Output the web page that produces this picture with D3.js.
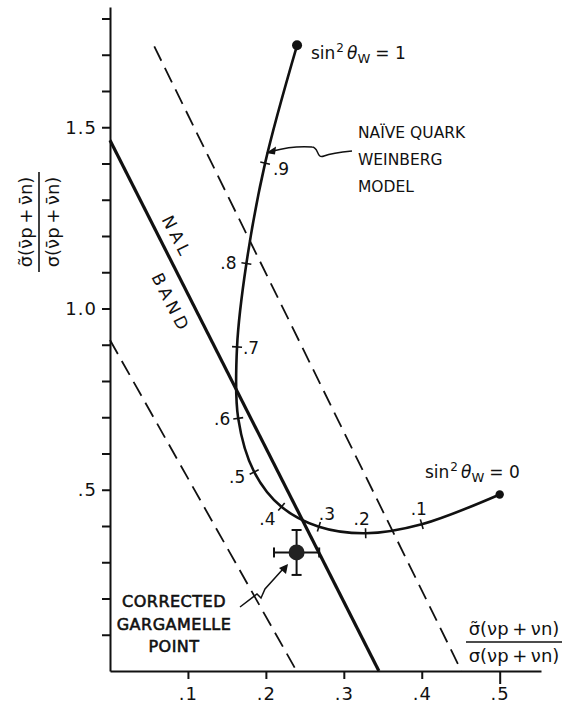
<!DOCTYPE html>
<html><head><meta charset="utf-8">
<script src="https://cdn.jsdelivr.net/npm/d3@7"></script>
<style>
html,body{margin:0;padding:0;background:#fff;}
svg{display:block;font-family:"DejaVu Sans",sans-serif;}
</style></head><body>
<svg id="chart" width="568" height="704"></svg>
<script>
// Naive quark Weinberg model: ratio of neutral to charged current cross sections,
// parametrised by sin²θW (antineutrino ratio vs neutrino ratio)
const sin2Theta  = [0, 0.1, 0.2, 0.3, 0.4, 0.5, 0.6, 0.7, 0.8, 0.9, 1.0];
const ratioNu    = [0.500, 0.400, 0.328, 0.268, 0.220, 0.185, 0.1645, 0.163, 0.175, 0.199, 0.240];
const ratioNuBar = [0.487, 0.405, 0.380, 0.398, 0.453, 0.549, 0.697, 0.894, 1.124, 1.401, 1.726];

// NAL band: central line and its two dashed limits, as [x, y] end points
const nalCentral = [[0, 1.464], [0.345, 0]];
const nalLower   = [[0, 0.913], [0.2394, 0]];
const nalUpper   = [[0.0568, 1.723], [0.4509, 0]];

// corrected Gargamelle measurement with errors
const garX = 0.2394, garY = 0.327, garXErr = 0.029, garYErr = 0.062;

// axis ticks
const xTicks = [0.1, 0.2, 0.3, 0.4, 0.5];
const yTicks = [0.1, 0.2, 0.3, 0.4, 0.5, 0.6, 0.7, 0.8, 0.9, 1.0, 1.1, 1.2, 1.3, 1.4, 1.5, 1.6, 1.7, 1.8];
const yLabelled = [0.5, 1.0, 1.5];
const yLabelText = [".5", "1.0", "1.5"];

const svg = d3.select("#chart");
const ink = "#111";
const thin = "\u2009";

const x = d3.scaleLinear().domain([0, 0.553]).range([110, 541]);
const y = d3.scaleLinear().domain([0, 1.8317]).range([671, 7]);

// ---- axes ----
const yAxis = svg.append("g").attr("transform", "translate(110,0)")
  .call(d3.axisLeft(y).tickValues(yTicks).tickSize(8).tickSizeOuter(0).tickPadding(5)
    .tickFormat(d => {
      const i = yLabelled.findIndex(v => Math.abs(v - d) < 1e-9);
      return i >= 0 ? yLabelText[i] : "";
    }));
const xAxis = svg.append("g").attr("transform", "translate(0,671)")
  .call(d3.axisBottom(x).tickValues(xTicks).tickSize(8).tickSizeOuter(0).tickPadding(8)
    .tickFormat(d => d3.format(".1f")(d).replace(/^0/, "")));
xAxis.selectAll(".tick").filter(d => d === 0.5).select("line").attr("y2", 13);
[yAxis, xAxis].forEach(g => {
  g.attr("font-family", "DejaVu Sans, sans-serif").attr("font-size", 18);
  g.select(".domain").attr("stroke", ink).attr("stroke-width", 2);
  g.selectAll(".tick line").attr("stroke", ink).attr("stroke-width", 2);
  g.selectAll(".tick text").attr("fill", ink).attr("letter-spacing", 1);
});

// ---- NAL band ----
const seg = d3.line().x(d => x(d[0])).y(d => y(d[1]));
svg.append("path").attr("d", seg(nalCentral)).attr("fill", "none")
  .attr("stroke", ink).attr("stroke-width", 3.2);
[nalLower, nalUpper].forEach(p => {
  svg.append("path").attr("d", seg(p)).attr("fill", "none")
    .attr("stroke", ink).attr("stroke-width", 1.8).attr("stroke-dasharray", "16,8");
});

// band labels, rotated along the central line
const ang = Math.atan2(y(nalCentral[1][1]) - y(nalCentral[0][1]), x(nalCentral[1][0]) - x(nalCentral[0][0])) * 180 / Math.PI;
[["NAL", 177, 237], ["BAND", 171, 303]].forEach(([t, cx, cy]) => {
  svg.append("text").attr("transform", `translate(${cx},${cy}) rotate(${ang})`)
    .attr("text-anchor", "middle").attr("dy", "0.35em")
    .attr("font-size", 17).attr("letter-spacing", 4).attr("fill", ink).text(t);
});

// ---- Weinberg model curve ----
const modelPts = sin2Theta.map((s, i) => [x(ratioNu[i]), y(ratioNuBar[i])]);
svg.append("path")
  .attr("d", d3.line().curve(d3.curveCatmullRom.alpha(0.5))(modelPts))
  .attr("fill", "none").attr("stroke", ink).attr("stroke-width", 2.6);

// end dots
svg.append("circle").attr("cx", modelPts[10][0]).attr("cy", modelPts[10][1]).attr("r", 5).attr("fill", ink);
svg.append("circle").attr("cx", modelPts[0][0]).attr("cy", modelPts[0][1]).attr("r", 4.2).attr("fill", ink);

// tick marks across the curve and their sin²θW labels
const labelShift = [null, [-3, -9], [-4, -8], [8, -7], [-14, 18], [-17, 11], [-16, 7], [14, 7], [-18, 5], [16, 12]];
for (let i = 1; i < sin2Theta.length - 1; i++) {
  const [px, py] = modelPts[i];
  const dx = modelPts[i + 1][0] - modelPts[i - 1][0];
  const dy = modelPts[i + 1][1] - modelPts[i - 1][1];
  const len = Math.hypot(dx, dy);
  const nx = -dy / len, ny = dx / len;
  svg.append("line")
    .attr("x1", px - 5 * nx).attr("y1", py - 5 * ny)
    .attr("x2", px + 5 * nx).attr("y2", py + 5 * ny)
    .attr("stroke", ink).attr("stroke-width", 1.6);
  svg.append("text").attr("x", px + labelShift[i][0]).attr("y", py + labelShift[i][1])
    .attr("text-anchor", "middle").attr("font-size", 17).attr("fill", ink)
    .text(d3.format(".1f")(sin2Theta[i]).replace(/^0/, ""));
}

// sin²θW end labels
function sinLabel(tx, ty, val) {
  const t = svg.append("text").attr("x", tx).attr("y", ty).attr("font-size", 17).attr("fill", ink);
  t.append("tspan").text("sin");
  t.append("tspan").attr("font-size", 12).attr("dy", -7).attr("dx", 1).text("2");
  t.append("tspan").attr("font-style", "italic").attr("dy", 7).attr("dx", 3).text("θ");
  t.append("tspan").attr("font-size", 13).attr("dy", 4).text("W");
  t.append("tspan").attr("dy", -4).attr("dx", 5).text("= " + val);
}
sinLabel(311, 59, "1");
sinLabel(425, 478, "0");

// model annotation with wavy arrow
["NAÏVE QUARK", "WEINBERG", "MODEL"].forEach((t, i) => {
  svg.append("text").attr("x", 358).attr("y", 138 + i * 27).attr("font-size", 15.5)
    .attr("fill", ink).text(t);
});
svg.append("path")
  .attr("d", "M352,151 C342,152 332,153 324,156 C316,159 319,147 312,147 C298,146 284,148 273,151")
  .attr("fill", "none").attr("stroke", ink).attr("stroke-width", 1.5);
svg.append("path").attr("d", "M266,153 L276,146.5 L275,154.5 Z").attr("fill", ink);

// ---- Gargamelle point ----
const gx = x(garX), gy = y(garY);
const gxl = x(garX - garXErr), gxr = x(garX + garXErr);
const gyt = y(garY + garYErr), gyb = y(garY - garYErr);
const eb = svg.append("g").attr("stroke", ink).attr("stroke-width", 2);
eb.append("line").attr("x1", gxl).attr("x2", gxr).attr("y1", gy).attr("y2", gy);
eb.append("line").attr("x1", gx).attr("x2", gx).attr("y1", gyt).attr("y2", gyb);
eb.append("line").attr("x1", gxl).attr("x2", gxl).attr("y1", gy - 5).attr("y2", gy + 5);
eb.append("line").attr("x1", gxr).attr("x2", gxr).attr("y1", gy - 5).attr("y2", gy + 5);
eb.append("line").attr("x1", gx - 5).attr("x2", gx + 5).attr("y1", gyt).attr("y2", gyt);
eb.append("line").attr("x1", gx - 5).attr("x2", gx + 5).attr("y1", gyb).attr("y2", gyb);
svg.append("circle").attr("cx", gx).attr("cy", gy).attr("r", 8).attr("fill", "#222");

["CORRECTED", "GARGAMELLE", "POINT"].forEach((t, i) => {
  svg.append("text").attr("x", 174).attr("y", 607 + i * 22.5).attr("text-anchor", "middle")
    .attr("font-size", 16).attr("stroke", ink).attr("stroke-width", 0.6)
    .attr("letter-spacing", 0.5).attr("fill", ink).text(t);
});
svg.append("path")
  .attr("d", "M240,607 L257,594 L261,598 L265,589 L283,569")
  .attr("fill", "none").attr("stroke", ink).attr("stroke-width", 1.5);
svg.append("path").attr("d", "M288,564 L286,574 L279,568 Z").attr("fill", ink);

// ---- axis titles (fractions) ----
function fraction(g, num, den, half, fs) {
  g.append("text").attr("x", 0).attr("y", -7).attr("text-anchor", "middle")
    .attr("font-size", fs).attr("fill", ink).text(num);
  g.append("line").attr("x1", -half).attr("x2", half).attr("y1", 0).attr("y2", 0)
    .attr("stroke", ink).attr("stroke-width", 1.6);
  g.append("text").attr("x", 0).attr("y", 20).attr("text-anchor", "middle")
    .attr("font-size", fs).attr("fill", ink).text(den);
}
fraction(svg.append("g").attr("transform", "translate(514,642)"),
  `σ\u0303(νp${thin}+${thin}νn)`, `σ(νp${thin}+${thin}νn)`, 48, 18);
fraction(svg.append("g").attr("transform", "translate(39,222) rotate(-90)"),
  `σ\u0303(ν\u0304p${thin}+${thin}ν\u0304n)`, `σ(ν\u0304p${thin}+${thin}ν\u0304n)`, 50, 18);
</script>
</body></html>
